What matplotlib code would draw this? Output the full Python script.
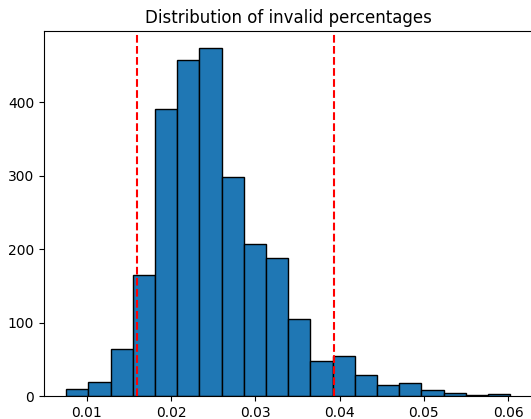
import matplotlib
matplotlib.use("Agg")
import matplotlib.pyplot as plt
import numpy as np

# histogram: 20 equal bins
BIN_START = 0.00755
BIN_END = 0.06025
COUNTS = [10, 19, 64, 165, 390, 457, 473, 298, 207, 188,
          105, 48, 55, 28, 15, 18, 8, 4, 1, 3]
LOWER_CUT = 0.0159
UPPER_CUT = 0.03935
TITLE = "Distribution of invalid percentages"

edges = np.linspace(BIN_START, BIN_END, len(COUNTS) + 1)
centers = (edges[:-1] + edges[1:]) / 2

fig = plt.figure(figsize=(5.31, 4.19), dpi=100)
# the reference is cropped on the right, so the axes run just past the edge
ax = fig.add_axes([44 / 531, 23 / 419, 488.5 / 531, 365 / 419])
ax.hist(centers, bins=edges, weights=COUNTS, color="#1f77b4", edgecolor="black")
ax.axvline(LOWER_CUT, color="red", linestyle="--")
ax.axvline(UPPER_CUT, color="red", linestyle="--")
ax.set_title(TITLE)

fig.savefig("out.png", dpi=100)
